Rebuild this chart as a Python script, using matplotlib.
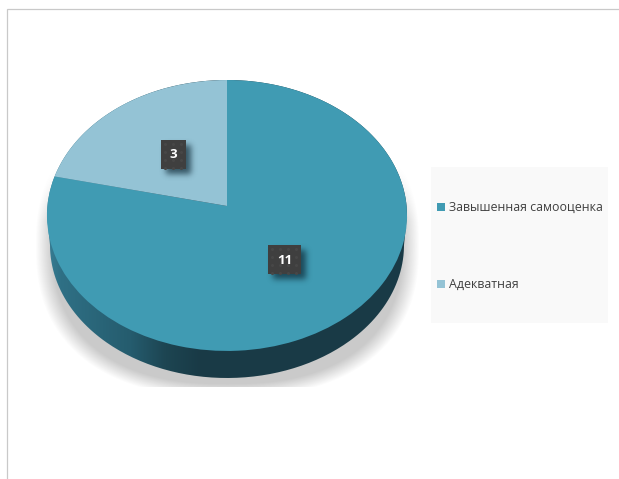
import numpy as np
import matplotlib
matplotlib.use("Agg")
import matplotlib.pyplot as plt
from matplotlib.path import Path
from matplotlib.patches import Rectangle, PathPatch
from matplotlib.transforms import Transform

categories = ["Завышенная самооценка", "Адекватная"]
values = [11, 3]
colors = ["#409bb3", "#94c3d5"]

W, H = 619, 479
plt.rcParams['font.family'] = ['Open Sans', 'DejaVu Sans']


class PieTilt(Transform):
    # unit circle -> tilted pie in pixel coords, the far half looks smaller
    input_dims = 2
    output_dims = 2

    def transform_non_affine(self, xy):
        xy = np.asarray(xy)
        k = 0.07
        d = 1 + k * xy[:, 1]
        return np.column_stack([227 + 179.6 * xy[:, 0] / d, 206 - 134.8 * xy[:, 1] / d])


def blur(a, r):
    kernel = np.exp(-0.5 * (np.arange(-3 * r, 3 * r + 1) / r) ** 2)
    kernel = kernel / kernel.sum()
    a = np.apply_along_axis(lambda v: np.convolve(v, kernel, mode="same"), 0, a)
    return np.apply_along_axis(lambda v: np.convolve(v, kernel, mode="same"), 1, a)


def shadow_layer(mask, rgb, strength):
    img = np.zeros((H, W, 4))
    img[..., :3] = rgb
    img[..., 3] = mask * strength
    return img


fig = plt.figure(figsize=(W / 100, H / 100), dpi=100, facecolor="white")
ax = fig.add_axes([0, 0, 1, 1])

wedges, _ = ax.pie(values, colors=colors, startangle=90, counterclock=False, radius=1)
tilt = PieTilt()
for w in wedges:
    w.set_transform(tilt + ax.transData)
    w.set_zorder(5)
    w.set_edgecolor("none")

ax.set_aspect("auto")
ax.set_xlim(0, W)
ax.set_ylim(H, 0)
ax.axis("off")

# frame around the chart
ax.plot([6.5, 6.5, W], [H, 8.5, 8.5], color="#c9c9c9", lw=0.9, zorder=1, solid_joinstyle="miter")

# soft shadow under the pie
yy, xx = np.mgrid[0:H, 0:W]
d = (np.abs((xx - 227) / 192.0) ** 2.4 + np.abs((yy - 245) / 152.0) ** 2.4) ** (1 / 2.4)
m = np.clip((1 - d) / 0.09, 0, 1)
m = m * np.clip((yy - 165) / 55.0, 0, 1)
m[yy > 386] = 0
ax.imshow(shadow_layer(m, (0.6, 0.6, 0.6), 0.52), extent=(0, W, H, 0), zorder=2, interpolation="bilinear", aspect="auto")

# side wall of the pie, lighter on the left
t = np.linspace(np.pi, 2 * np.pi, 200)
low_x = 227 + 177 * np.cos(t)
low_y = 245 - 133 * np.sin(t)
t2 = np.linspace(0, np.pi, 100)
top_x = 227 + 180 * np.cos(t2)
top_y = 215.5 - 135.5 * np.sin(t2)
wall = Path(np.column_stack([np.r_[low_x, top_x], np.r_[low_y, top_y]]))
grad_x = np.array([47, 60, 130, 165, 200, 407])
grad_r = np.array([0x38, 0x2f, 0x25, 0x1d, 0x19, 0x19]) / 255
grad_g = np.array([0x7d, 0x70, 0x5c, 0x45, 0x3a, 0x3a]) / 255
grad_b = np.array([0x94, 0x85, 0x6e, 0x52, 0x46, 0x46]) / 255
xs = np.arange(W)
grad = np.dstack([np.interp(xs, grad_x, c) for c in (grad_r, grad_g, grad_b)])
im = ax.imshow(grad, extent=(0, W, H, 0), zorder=3, aspect="auto")
clip = PathPatch(wall, transform=ax.transData, fc="none", ec="none")
ax.add_patch(clip)
im.set_clip_path(clip)

# legend box
ax.add_patch(Rectangle((431, 167), 177, 156, fc="#f9f9f9", ec="none", zorder=2))
legend_y = [207, 284]
for name, col, y in zip(categories, colors, legend_y):
    ax.add_patch(Rectangle((437, y - 4), 8, 8, fc=col, ec="none", zorder=6))
    ax.text(449, y, name, fontsize=8.95, color="#404040", va="center", ha="left", zorder=6)

# data labels, dark boxes with dots and a shadow
boxes = [(268, 245, 33, 29), (161, 140, 25, 29)]
for val, (bx, by, bw, bh) in zip(values, boxes):
    m = np.zeros((H, W))
    m[by + 5:by + bh + 5, bx + 5:bx + bw + 5] = 1
    ax.imshow(shadow_layer(blur(m, 3), (0.05, 0.15, 0.2), 0.7), extent=(0, W, H, 0), zorder=7, aspect="auto")
    ax.add_patch(Rectangle((bx, by), bw, bh, fc="#3f3f3f", ec="none", zorder=8))
    dot_x, dot_y = np.meshgrid(np.arange(bx + 4, bx + bw, 8), np.arange(by + 4, by + bh, 8))
    ax.scatter(dot_x.ravel(), dot_y.ravel(), s=5, color="#474747", linewidths=0, zorder=9)
    ax.text(bx + bw / 2, by + bh / 2 + 0.5, str(val), color="white", fontsize=9.5, fontweight="bold",
            ha="center", va="center", zorder=10)

ax.set_xlim(0, W)
ax.set_ylim(H, 0)
fig.savefig("out.png", dpi=100)
